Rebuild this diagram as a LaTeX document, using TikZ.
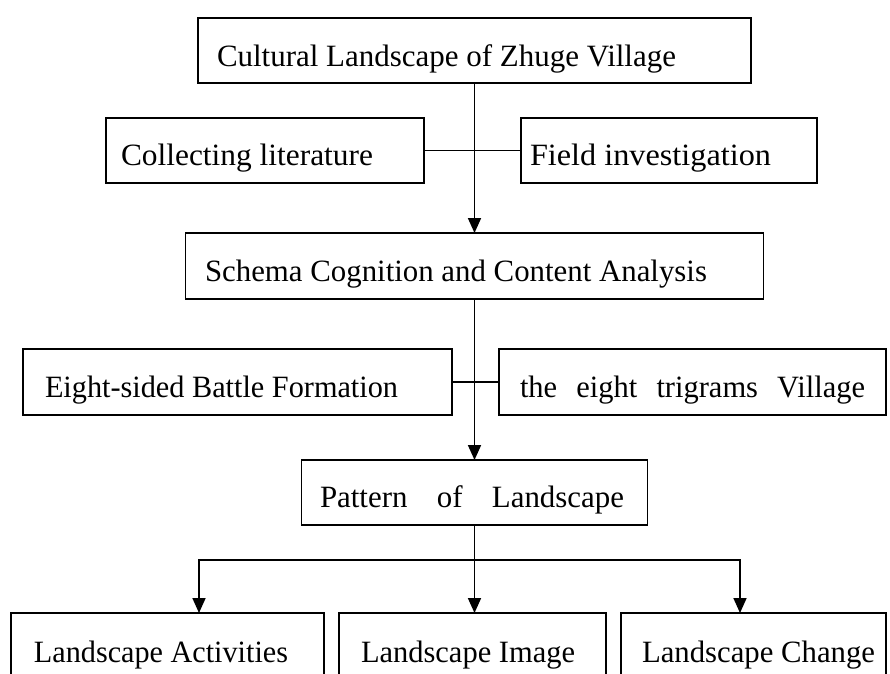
\documentclass[tikz,border=0pt]{standalone}
\usepackage{graphicx}
\usepackage{fontspec}
\setmainfont{Liberation Serif}
\usetikzlibrary{arrows.meta}
\tikzset{
  box/.style={draw=black, line width=1.8pt, rectangle, inner sep=0pt, outer sep=0pt},
  lbl/.style={anchor=base west, inner sep=0pt, outer sep=0pt, font=\fontsize{31}{35}\selectfont},
  conn/.style={line width=1.7pt, draw=black},
  arr/.style={conn, -{Triangle[length=15pt,width=13pt]}},
}
\newcommand{\fitw}[2]{\resizebox{#1pt}{\height}{#2}}
\begin{document}
\begin{tikzpicture}[x=1pt,y=-1pt]
\useasboundingbox (0,0) rectangle (890,673);
\clip (0,0) rectangle (890,673);
% boxes
\node[box, minimum width=553pt, minimum height=65pt] (top) at (474.5,50.5) {};
\node[box, minimum width=318pt, minimum height=65pt] (lit) at (265,150.5) {};
\node[box, minimum width=296pt, minimum height=65pt] (field) at (669,150.5) {};
\node[box, minimum width=578pt, minimum height=66pt] (schema) at (474.5,266) {};
\node[box, minimum width=429pt, minimum height=66pt] (eight) at (237.5,382) {};
\node[box, minimum width=387pt, minimum height=66pt] (trig) at (692.5,382) {};
\node[box, minimum width=346pt, minimum height=65pt] (pattern) at (474.5,492.5) {};
\node[box, minimum width=313pt, minimum height=80pt] (act) at (167.5,653) {};
\node[box, minimum width=267pt, minimum height=80pt] (img) at (472.5,653) {};
\node[box, minimum width=265pt, minimum height=80pt] (chg) at (753.5,653) {};
% texts
\node[lbl] (tTop) at (217,66) {\fitw{459}{Cultural Landscape of Zhuge Village}};
\node[lbl] (tLit) at (121,165) {\fitw{252}{Collecting literature}};
\node[lbl] (tField) at (530,165) {\fitw{241}{Field investigation}};
\node[lbl] (tSchema) at (205,281) {\fitw{502}{Schema Cognition and Content Analysis}};
\node[lbl] (tEight) at (45,397) {\fitw{353}{Eight-sided Battle Formation}};
\node[lbl] (tTrig) at (520,397) {\fitw{345}{the\hspace{0.63em}eight\hspace{0.63em}trigrams\hspace{0.63em}Village}};
\node[lbl] (tPat) at (320,507) {\fitw{304}{Pattern\hspace{0.95em}of\hspace{0.95em}Landscape}};
\node[lbl] (tAct) at (34,662) {\fitw{254}{Landscape Activities}};
\node[lbl] (tImg) at (361,662) {\fitw{214}{Landscape Image}};
\node[lbl] (tChg) at (642,662) {\fitw{233}{Landscape Change}};
% connectors
\draw[arr] (top.south) -- (top.south |- schema.north);
\draw[conn] (lit.east) -- (field.west);
\draw[arr] (schema.south) -- (schema.south |- pattern.north);
\draw[conn] (eight.east) -- (trig.west);
\coordinate (jl) at (199,560);
\coordinate (jr) at (740,560);
\draw[arr] (pattern.south |- jl) -| (jl |- act.north);
\draw[arr] (pattern.south |- jl) -| (jr |- chg.north);
\draw[arr] (pattern.south) -- (pattern.south |- img.north);
\end{tikzpicture}
\end{document}
